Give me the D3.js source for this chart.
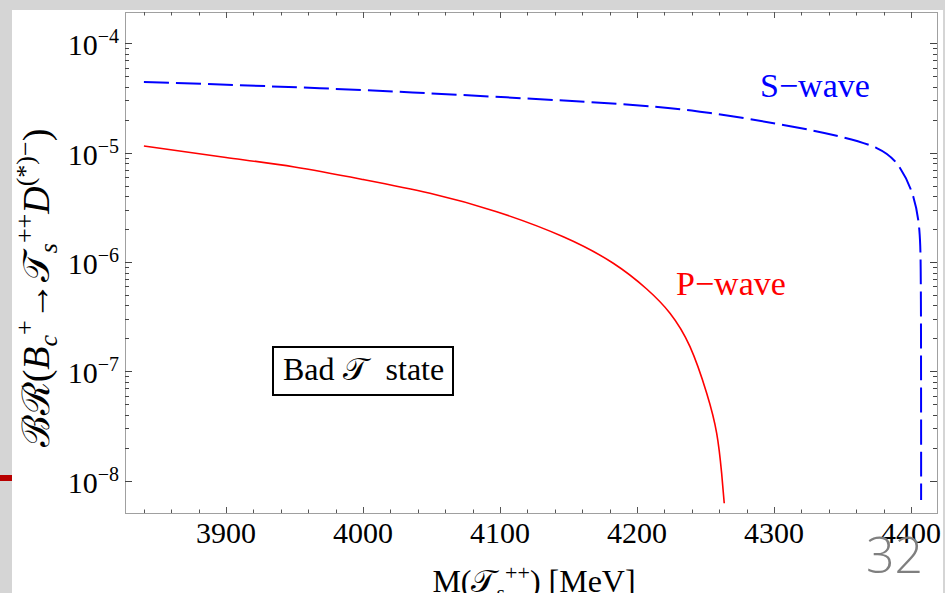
<!DOCTYPE html>
<html>
<head>
<meta charset="utf-8">
<script src="https://cdn.jsdelivr.net/npm/d3@7"></script>
<style>
  body { margin: 0; background: #d5d5d5; }
  svg { display: block; }
  text { font-family: "Liberation Serif", "DejaVu Serif", serif; }
</style>
</head>
<body>
<svg id="canvas" width="945" height="593"></svg>
<script>
// P-wave branching ratio (red, solid)
var pMass = [3840.1, 3900, 3950, 4000, 4048.9, 4097.6, 4146.2, 4182.7, 4207.1, 4224.1, 4238.7, 4250.9, 4258.2, 4261.8, 4263.7];
var pBR   = [1.15e-5, 9.03e-6, 7.39e-6, 5.68e-6, 4.25e-6, 2.88e-6, 1.70e-6, 9.73e-7, 5.66e-7, 3.40e-7, 1.68e-7, 6.30e-8, 2.71e-8, 1.17e-8, 6.21e-9];

// S-wave branching ratio (blue, dashed)
var sMass = [3840.1, 3968.6, 4070.8, 4173.0, 4246.0, 4306.8, 4343.3, 4375.0, 4392.0, 4401.7, 4406.1, 4407.1, 4407.3, 4407.35, 4407.4, 4407.4];
var sBR   = [4.43e-5, 3.88e-5, 3.37e-5, 2.86e-5, 2.37e-5, 1.79e-5, 1.45e-5, 1.10e-5, 7.24e-6, 3.95e-6, 1.96e-6, 8.45e-7, 2.95e-7, 1.03e-7, 2.62e-8, 6.65e-9];

var xMajor = [3900, 4000, 4100, 4200, 4300, 4400];
var yExp = [-8, -7, -6, -5, -4];

var svg = d3.select('#canvas');

// ************************************************************ //
// Slide background

svg.append('rect').attr('x', 0).attr('y', 0).attr('width', 945).attr('height', 593).style('fill', '#d5d5d5');
svg.append('rect').attr('x', 12).attr('y', 10).attr('width', 931).attr('height', 583).style('fill', '#fff');
svg.append('rect').attr('x', 0).attr('y', 475).attr('width', 12).attr('height', 6).style('fill', '#b80000');

// ************************************************************ //
// Scales

var plotL = 125, plotR = 937, plotT = 12, plotB = 513;
var x = d3.scaleLinear().domain([3826.3, 4419.0]).range([plotL, plotR]);
var y = d3.scaleLog().domain([Math.pow(10, -8.296), Math.pow(10, -3.714)]).range([plotB, plotT]);

// ************************************************************ //
// Frame and ticks

var g = svg.append('g');
g.append('rect').attr('x', plotL + 0.5).attr('y', plotT + 0.5).attr('width', plotR-plotL).attr('height', plotB-plotT)
  .style('fill', 'none').style('stroke', '#a0a0a0').style('stroke-width', 1);

var xMinor = d3.range(3840, 4420, 20).filter(function(d){ return xMajor.indexOf(d) < 0; });
var yMinor = [];
yExp.forEach(function(e){ if(e < -4) d3.range(2, 10).forEach(function(k){ yMinor.push(k*Math.pow(10, e)); }); });

function xTick(v, len){
  var px = Math.round(x(v)) + 0.5;
  g.append('line').attr('x1', px).attr('x2', px).attr('y1', plotB).attr('y2', plotB-len).style('stroke', '#555');
  g.append('line').attr('x1', px).attr('x2', px).attr('y1', plotT).attr('y2', plotT+len).style('stroke', '#555');
}
function yTick(v, len){
  var py = Math.round(y(v)) + 0.5;
  g.append('line').attr('x1', plotL).attr('x2', plotL+len).attr('y1', py).attr('y2', py).style('stroke', '#444');
  g.append('line').attr('x1', plotR).attr('x2', plotR-len).attr('y1', py).attr('y2', py).style('stroke', '#444');
}
xMinor.forEach(function(d){ xTick(d, 3.5); });
xMajor.forEach(function(d){ xTick(d, 6); });
yMinor.forEach(function(d){ yTick(d, 4); });
yExp.forEach(function(e){ yTick(Math.pow(10, e), 7); });

// tick labels
xMajor.forEach(function(d){
  g.append('text').attr('x', x(d)).attr('y', plotB+30).attr('text-anchor', 'middle')
    .style('font-size', '30px').text(d);
});
yExp.forEach(function(e){
  var t = g.append('text').attr('x', plotL-6).attr('y', y(Math.pow(10, e))+12).attr('text-anchor', 'end')
    .style('font-size', '30px');
  t.append('tspan').text('10');
  t.append('tspan').attr('dy', -12).style('font-size', '20px').text('\u2212' + Math.abs(e));
});

// ************************************************************ //
// Curves

var line = d3.line().x(function(d){ return x(d[0]); }).y(function(d){ return y(d[1]); })
  .curve(d3.curveNatural);

var pData = pMass.map(function(m, i){ return [m, pBR[i]]; });
var sData = sMass.map(function(m, i){ return [m, sBR[i]]; });

g.append('path').attr('d', line(pData)).style('fill', 'none').style('stroke', '#ff0000').style('stroke-width', 1.6);
g.append('path').attr('d', line(sData)).style('fill', 'none').style('stroke', '#0000ff').style('stroke-width', 2)
  .style('stroke-dasharray', '25,7');

// ************************************************************ //
// Annotations

g.append('text').attr('x', 760).attr('y', 97).style('font-size', '34px').style('fill', '#0000ff').text('S\u2212wave');
g.append('text').attr('x', 676).attr('y', 295).style('font-size', '34px').style('fill', '#ff0000').text('P\u2212wave');

g.append('rect').attr('x', 273).attr('y', 347).attr('width', 180).attr('height', 48)
  .style('fill', '#fff').style('stroke', '#000').style('stroke-width', 2);
var bad = g.append('text').attr('x', 283).attr('y', 380).style('font-size', '32px');
bad.append('tspan').text('Bad ');
bad.append('tspan').text('\uD835\uDCAF');
bad.append('tspan').attr('dx', 10).text(' state');

// axis labels
var xl = svg.append('text').attr('x', 534).attr('y', 592).attr('text-anchor', 'middle').style('font-size', '32px');
xl.append('tspan').text('M(');
xl.append('tspan').text('\uD835\uDCAF');
xl.append('tspan').attr('dy', 8).style('font-size', '22px').text('s');
xl.append('tspan').attr('dy', -20).style('font-size', '22px').text('++');
xl.append('tspan').attr('dy', 12).text(') [MeV]');

var yl = svg.append('text').attr('transform', 'translate(49,288) rotate(-90)').attr('text-anchor', 'middle')
  .style('font-size', '38px');
yl.append('tspan').text('\u212C\u211B(');
yl.append('tspan').style('font-style', 'italic').text('B');
yl.append('tspan').attr('dy', 8).style('font-size', '26px').style('font-style', 'italic').text('c');
yl.append('tspan').attr('dy', -24).style('font-size', '26px').text('+');
yl.append('tspan').attr('dy', 16).text('\u2192');
yl.append('tspan').text('\uD835\uDCAF');
yl.append('tspan').attr('dy', 8).style('font-size', '26px').style('font-style', 'italic').text('s');
yl.append('tspan').attr('dy', -24).style('font-size', '26px').text('++');
yl.append('tspan').attr('dy', 16).style('font-style', 'italic').text('D');
yl.append('tspan').attr('dy', -15).style('font-size', '26px').text('(*)\u2212');
yl.append('tspan').attr('dy', 15).text(')');

// page number
svg.append('text').attr('x', 866).attr('y', 573).style('font-family', '"Open Sans", sans-serif')
  .style('font-weight', 300).style('font-size', '50px').style('fill', '#7f7f7f').text('32');
</script>
</body>
</html>
